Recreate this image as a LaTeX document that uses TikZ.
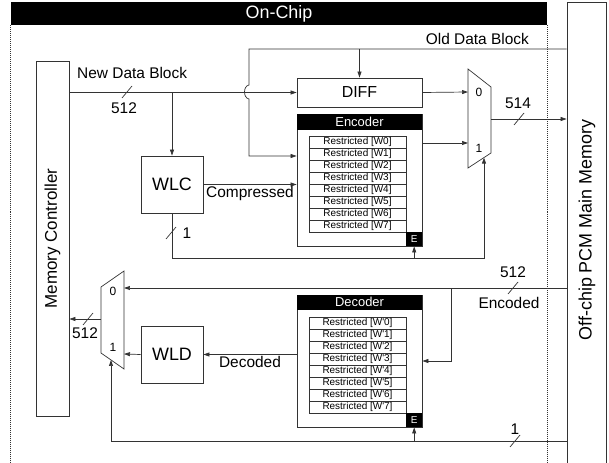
\documentclass[tikz,border=0pt]{standalone}
\usepackage{fontspec}
\setmainfont{Liberation Sans}
\usetikzlibrary{arrows.meta,positioning,calc}
\definecolor{ink}{HTML}{333333}
\tikzset{
  blk/.style={draw=ink,line width=0.8pt,inner sep=0pt,fill=white},
  head/.style={fill=black,text=white,inner sep=0pt,minimum width=125bp,font=\fontsize{13}{15}\selectfont},
  row/.style={draw=ink,line width=0.6pt,inner sep=0pt,minimum width=97bp,minimum height=12bp,
    font=\fontsize{10}{11}\selectfont},
  ebit/.style={fill=black,text=white,inner sep=0pt,minimum width=16bp,minimum height=14bp,
    font=\fontsize{10}{11}\selectfont},
  lbl/.style={inner sep=1pt,font=\fontsize{15.5}{17}\selectfont},
  sel/.style={inner sep=0pt,font=\fontsize{12}{13}\selectfont},
  arr/.style={-{Triangle[length=6pt,width=4pt]},line width=0.7pt,draw=ink},
  wire/.style={line width=0.7pt,draw=ink},
  border/.style={draw=ink,line width=0.8pt,dash pattern=on 1pt off 1pt}
}
\newcommand{\bus}[1]{\draw[wire] (#1) ++(-5,6) -- ++(10,-12);}

\begin{document}
\begin{tikzpicture}[x=1bp,y=-1bp]
 \useasboundingbox (0,0) rectangle (609,463);
 % on-chip region
 \node[fill=black,text=white,minimum width=536bp,minimum height=23bp,inner sep=0pt,
   font=\fontsize{18}{20}\selectfont] (chip) at (279,13.5) {On-Chip};
 \draw[border] (chip.south west) -- (chip.south west |- 0,463);
 \draw[border] (chip.south east) -- (chip.south east |- 0,463);
 % memories
 \node[blk,minimum width=33bp,minimum height=355bp] (mc) at (52.5,238.5)
   {\rotatebox{90}{\fontsize{17}{19}\selectfont Memory Controller}};
 \node[blk,minimum width=39bp,minimum height=470bp] (pcm) at (586.5,237) {};
 \node[rotate=90,inner sep=0pt,font=\fontsize{18}{20}\selectfont] (pcmtxt) at (587,230) {Off-chip PCM Main Memory};
 % blocks
 \node[blk,minimum width=125bp,minimum height=29bp,font=\fontsize{16}{18}\selectfont] (diff) at (359.5,92.5) {DIFF};
 \node[blk,minimum width=62bp,minimum height=57bp,font=\fontsize{18}{20}\selectfont] (wlc) at (172,184.5) {WLC};
 \node[blk,minimum width=62bp,minimum height=57bp,font=\fontsize{18}{20}\selectfont] (wld) at (172,354.5) {WLD};
 % encoder
 \node[blk,minimum width=125bp,minimum height=132bp] (enc) at (359.5,180) {};
 \node[head,minimum height=16bp,anchor=north] (enchead) at (enc.north) {Encoder};
 \foreach \i in {0,...,7}
   \node[row] (enc\i) at (357.5,142+12*\i) {Restricted [W\i]};
 \node[ebit,anchor=south east] (encE) at (enc.south east) {E};
 % decoder
 \node[blk,minimum width=125bp,minimum height=132bp] (dec) at (359.5,361) {};
 \node[head,minimum height=15bp,anchor=north] (dechead) at (dec.north) {Decoder};
 \foreach \i in {0,...,7}
   \node[row] (dec\i) at (357.5,323+12*\i) {Restricted [W\textquotesingle\i]};
 \node[ebit,anchor=south east] (decE) at (dec.south east) {E};
 % muxes
 \draw[wire] (468,69) -- (491,87) -- (491,153) -- (468,168) -- cycle;
 \coordinate (mxa0) at (468,92);
 \coordinate (mxa1) at (468,143);
 \coordinate (mxaout) at (491,119);
 \coordinate (mxasel) at (484,157.6);
 \node[sel] at (479,92) {0};
 \node[sel] at (479,148) {1};
 \draw[wire] (124,271) -- (124,369) -- (101,353) -- (101,287) -- cycle;
 \coordinate (mxb0) at (124,288);
 \coordinate (mxb1) at (124,354);
 \coordinate (mxbout) at (101,319);
 \coordinate (mxbsel) at (111,360);
 \node[sel] at (113,291) {0};
 \node[sel] at (113,347) {1};
 % write path
 \draw[arr] (mc.east |- diff.west) -- (diff.west);
 \node[lbl,anchor=west] at (76,73) {New Data Block};
 \bus{127,92}
 \node[lbl] at (124,108) {512};
 \draw[arr] (wlc.north |- diff.west) -- (wlc.north);
 \coordinate (oldtap) at (249,49);
 \draw[arr] (pcm.west |- oldtap) -- (oldtap) -- (249,85) .. controls (243,86) and (243,98) .. (249,99)
   -- (249,156) -- (enc.west |- 0,156);
 \draw[arr] (diff.north |- oldtap) -- (diff.north);
 \node[lbl,anchor=east] at (530,39) {Old Data Block};
 \draw[arr] (diff.east) -- (mxa0);
 \draw[arr] (enc.east |- mxa1) -- (mxa1);
 \draw[arr] (mxaout) -- (mxaout -| pcm.west);
 \bus{519,119}
 \node[lbl] at (518,103) {514};
 \draw[arr] (wlc.east) -- (wlc.east -| enc.west) node[lbl,midway,below] {Compressed};
 \draw[arr] (wlc.south) -- (wlc.south |- 0,258) -- (mxasel |- 0,258) -- (mxasel);
 \draw[arr] (encE.south |- 0,258) -- (encE.south);
 \bus{171,233}
 \node[lbl] at (187,233) {1};
 % read path
 \draw[arr] (pcm.west |- 0,288) -- (mxb0);
 \bus{513,288}
 \node[lbl] at (513,272) {512};
 \node[lbl] at (509,303) {Encoded};
 \draw[arr] (451,288) -- (451,361) -- (dec.east |- 0,361);
 \draw[arr] (dec.west |- wld) -- (wld.east) node[lbl,midway,below] {Decoded};
 \draw[arr] (wld.west) -- (mxb1);
 \draw[arr] (mxbout) -- (mxbout -| mc.east);
 \bus{88,319}
 \node[lbl] at (85,333) {512};
 \draw[arr] (pcm.west |- 0,441) -- (mxbsel |- 0,441) -- (mxbsel);
 \draw[arr] (decE.south |- 0,441) -- (decE.south);
 \bus{515,441}
 \node[lbl] at (515,429) {1};
\end{tikzpicture}
\end{document}
